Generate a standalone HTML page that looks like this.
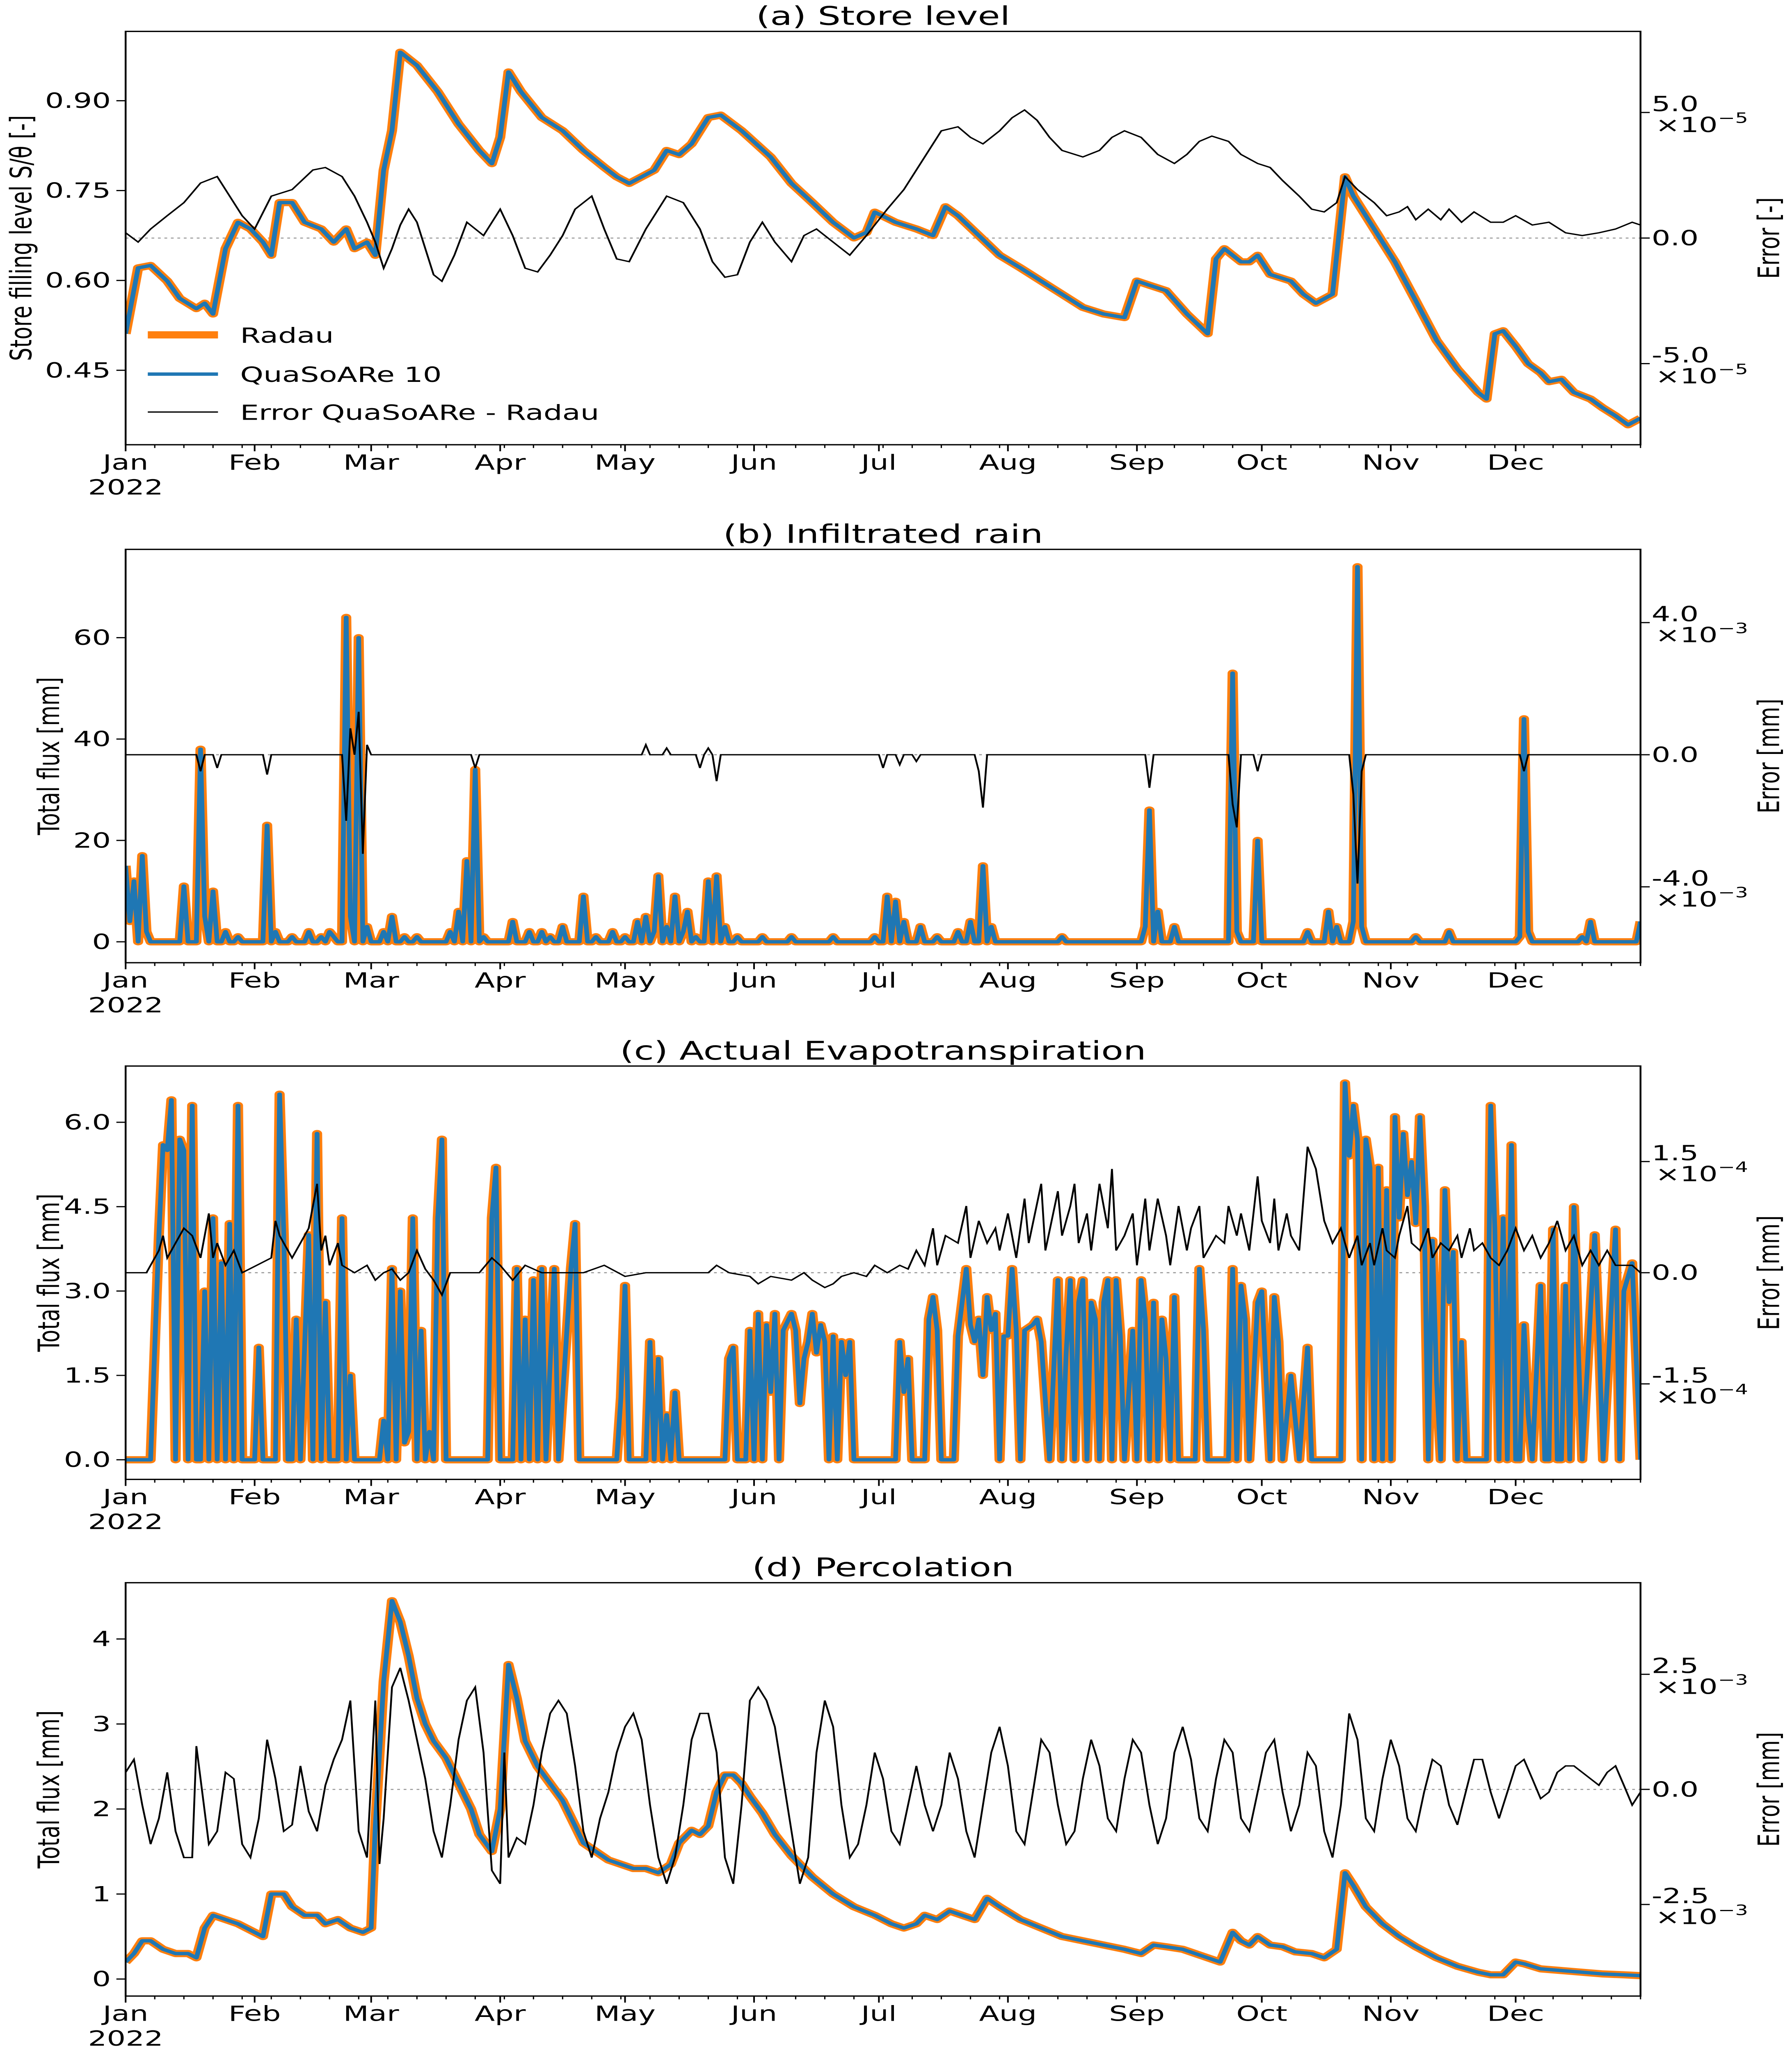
<!DOCTYPE html>
<html><head><meta charset="utf-8"><style>html,body{margin:0;padding:0;background:#fff;width:100%;height:100%;overflow:hidden}svg{display:block;width:100vw;height:100vh}text{font-family:"DejaVu Sans","Liberation Sans",sans-serif;fill:#000}</style></head>
<body>
<svg id="fig" xmlns="http://www.w3.org/2000/svg" viewBox="0 0 970 1568" preserveAspectRatio="none"></svg>
<script>
// ---- shared axis data
const monthLabels=["Jan","Feb","Mar","Apr","May","Jun","Jul","Aug","Sep","Oct","Nov","Dec"];
const monthStarts=[0,31,59,90,120,151,181,212,243,273,304,334];

// ---- (a) Store level
const storeDays=[0,3,6,10,13,17,19,21,24,27,30,33,35,37,40,43,47,50,53,55,58,60,62,64,66,70,75,80,85,88,90,92,95,100,105,110,115,118,121,124,127,130,133,136,140,143,148,155,160,165,170,175,178,180,185,190,194,197,200,205,210,215,220,225,230,235,240,243,246,250,255,260,262,264,268,270,272,275,280,283,286,290,293,295,298,300,305,310,315,320,325,327,329,331,334,337,340,342,345,348,352,355,358,361,364];
const storeVals=[0.511,0.621,0.625,0.599,0.570,0.553,0.562,0.544,0.653,0.697,0.686,0.664,0.642,0.730,0.730,0.697,0.686,0.664,0.686,0.653,0.664,0.642,0.784,0.850,0.981,0.959,0.915,0.861,0.817,0.795,0.839,0.948,0.915,0.872,0.850,0.817,0.789,0.773,0.762,0.773,0.784,0.817,0.810,0.828,0.872,0.876,0.850,0.806,0.762,0.730,0.697,0.671,0.680,0.714,0.697,0.686,0.675,0.723,0.708,0.675,0.642,0.621,0.599,0.577,0.555,0.544,0.538,0.599,0.592,0.583,0.544,0.511,0.636,0.653,0.631,0.631,0.642,0.610,0.599,0.577,0.562,0.577,0.773,0.741,0.708,0.686,0.631,0.566,0.500,0.452,0.413,0.402,0.511,0.516,0.490,0.461,0.446,0.431,0.435,0.413,0.402,0.387,0.374,0.359,0.370];
const storeErrDays=[0,3,6,10,14,18,22,25,28,31,35,40,45,48,52,55,58,60,62,64,66,68,70,74,76,79,82,86,90,93,96,99,102,105,108,112,115,118,121,125,130,134,138,141,144,147,150,153,156,160,163,166,170,174,178,183,187,190,193,196,200,203,206,210,213,216,219,222,225,230,234,237,240,244,248,252,255,258,261,265,268,272,275,278,282,285,288,291,293,296,300,303,306,308,310,313,316,318,321,324,328,331,334,338,342,346,350,354,358,362,364];
const storeErr=[0.21,-0.16,0.36,0.89,1.41,2.19,2.45,1.67,0.89,0.36,1.67,1.93,2.71,2.81,2.45,1.67,0.63,-0.16,-1.2,-0.42,0.52,1.15,0.63,-1.46,-1.72,-0.68,0.63,0.1,1.15,0.1,-1.2,-1.35,-0.68,0.1,1.15,1.67,0.36,-0.83,-0.94,0.36,1.67,1.41,0.36,-0.94,-1.56,-1.46,-0.16,0.63,-0.16,-0.94,0.1,0.36,-0.16,-0.68,0.1,1.15,1.93,2.71,3.49,4.27,4.43,4.01,3.75,4.27,4.79,5.1,4.69,4.01,3.49,3.23,3.49,4.01,4.27,4.01,3.33,2.97,3.33,3.85,4.06,3.85,3.33,2.97,2.81,2.29,1.67,1.15,1.04,1.41,2.45,1.93,1.41,0.89,1.04,1.25,0.73,1.15,0.73,1.15,0.63,1.04,0.63,0.63,0.89,0.52,0.63,0.21,0.1,0.21,0.36,0.63,0.52];

// ---- (b) Infiltrated rain (sparse days, zero elsewhere)
const rainDays=[0,1,2,4,5,14,18,19,21,24,27,34,36,40,44,47,49,50,53,54,56,58,62,64,67,70,78,80,82,84,86,93,97,100,102,105,110,113,117,120,123,125,127,128,130,132,134,135,137,140,142,144,147,153,160,170,180,183,185,187,191,195,200,203,206,208,225,245,246,248,252,266,267,272,284,289,291,295,296,297,310,318,335,336,337,350,352,364];
const rainVals=[15,4,12,17,2,11,38,5,10,2,1,23,2,1,2,1,2,1,64,5,60,3,2,5,1,1,2,6,16,34,1,4,2,2,1,3,9,1,2,1,4,5,2,13,3,9,2,6,1,12,13,3,1,1,1,1,1,9,8,4,3,1,2,4,15,3,1,3,26,6,3,53,2,20,2,6,3,4,74,3,1,2,1,44,2,1,4,4];
const rainErrDays=[18,22,34,53,54,56,57,58,84,125,130,138,140,142,182,186,190,205,206,246,266,267,272,295,296,297,336];
const rainErr=[-0.5,-0.4,-0.6,-2.0,0.8,1.3,-3.0,0.3,-0.4,0.3,0.2,-0.4,0.2,-0.8,-0.4,-0.3,-0.2,-0.5,-1.6,-1.0,-1.5,-2.2,-0.5,-1.2,-3.9,-0.5,-0.5];

// ---- (c) Actual evapotranspiration
const etDays=[0,6,8,9,10,11,12,13,14,15,16,17,18,19,20,21,22,23,24,25,26,27,28,31,32,33,36,37,38,39,40,41,42,44,45,46,47,48,49,51,52,53,54,55,61,62,63,64,65,66,67,68,69,70,71,72,73,74,75,76,77,87,88,89,90,93,94,95,96,97,98,99,100,101,103,104,107,108,109,118,119,120,121,125,126,127,128,129,130,131,132,133,144,145,146,147,149,150,151,152,153,154,155,156,157,158,160,161,162,163,164,165,166,167,168,169,170,171,172,173,174,175,185,186,187,188,189,192,193,194,195,196,199,200,202,203,204,205,206,207,208,209,210,211,212,213,214,215,216,218,219,220,222,224,225,226,227,228,229,230,231,232,233,234,235,236,237,238,239,240,242,243,244,245,246,247,248,249,250,251,252,253,257,258,259,260,265,266,267,268,269,270,272,273,275,276,277,278,280,282,284,285,292,293,294,295,296,297,298,299,300,301,302,303,304,305,306,307,308,309,310,311,312,313,314,315,316,317,318,319,320,321,322,327,328,329,330,331,332,333,334,335,336,337,338,340,341,342,343,344,345,346,347,348,349,350,353,354,355,358,359,360,362,364];
const etVals=[0,0,4,5.6,5.5,6.4,0,5.7,5.5,0,6.3,0,0,3,0,4.3,0,3.5,0,4.2,0,6.3,0,0,2,0,0,6.5,4,0,0,2.5,0,4,0,5.8,0,2.8,0,0,4.3,0,1.5,0,0,0.7,0,3.4,0,3,0.3,0.5,4.3,0,2.3,0,0.5,0,4.3,5.7,0,0,4.3,5.2,0,0,3.4,0,2.5,0,3.2,0,3.4,0,3.4,0,3.4,4.2,0,0,1.1,3.1,0,0,2.1,0,1.8,0,0.8,0,1.2,0,0,1.8,2,0,0,2.3,0,2.6,0,2.4,1.2,2.6,0,2.3,2.6,2.3,1,1.8,2.1,2.6,1.9,2.4,2.1,0,2.2,0,2.1,1.5,2.1,0,0,2.1,1.2,1.8,0,0,2.5,2.9,2.3,0,0,2.2,3.4,2.4,2.1,2.5,1.5,2.9,2.3,2.6,0,2.2,2.2,3.4,2.3,0,2.3,2.4,2.5,2.1,0,3.2,0,1.9,3.2,0,2.8,3.2,0,2.8,2.5,0,2.8,3.2,0,3.2,2.2,0,2.3,0,3.2,2.5,0,2.8,0,2.5,1.8,0,2.9,0,0,3.4,2.3,0,0,3.4,0,3.1,2.5,0,2.8,3.0,0,2.9,2.1,0,1.5,0,2,0,0,6.7,5.4,6.3,5.7,0,5.7,5.2,0,5.2,0,4.8,0,6.1,4.3,5.8,4.7,5.3,4.2,6.1,4.5,0,3.9,1.4,0,4.8,2.8,3.7,0,2.1,0,0,6.3,4.1,0,4.3,0,5.6,0,0,2.4,0.8,0,3.1,0,0,4.1,0,0,3.1,0,4.5,2.1,0,4,2.2,0,4.1,0,3,3.5,0];
const etErrDays=[0,5,8,9,10,12,14,16,18,20,21,22,24,26,28,35,36,37,40,44,46,47,48,49,51,52,55,58,60,62,64,66,68,70,72,74,76,78,85,88,90,93,96,100,110,115,120,125,140,142,145,150,152,155,160,163,165,168,170,172,175,178,180,183,186,188,190,192,194,195,197,200,202,203,205,207,209,210,212,214,216,217,220,221,224,225,227,228,229,231,232,234,236,237,238,240,242,243,245,246,248,250,251,253,255,256,258,259,262,264,265,267,268,270,272,273,275,276,277,279,280,282,284,286,288,290,292,294,296,297,299,300,302,303,305,306,308,309,311,313,314,316,318,320,321,323,324,326,328,330,332,334,336,338,340,342,344,346,348,350,352,354,356,358,362,364];
const etErr=[0,0,0.3,0.5,0.2,0.4,0.6,0.5,0.2,0.8,0.2,0.4,0.1,0.3,0,0.2,0.7,0.5,0.2,0.6,1.2,0.3,0.5,0.1,0.4,0.1,0,0.1,-0.1,0,0.05,-0.1,0,0.3,0.05,-0.1,-0.3,0,0,0.2,0.1,-0.1,0.1,0,0,0.1,-0.05,0,0,0.1,0,-0.05,-0.15,-0.05,-0.1,0,-0.1,-0.2,-0.15,-0.05,0,-0.05,0.1,0,0.1,0.05,0.3,0.1,0.6,0.1,0.5,0.4,0.9,0.2,0.7,0.4,0.6,0.3,0.8,0.2,1.0,0.4,1.2,0.3,1.1,0.5,0.9,1.2,0.4,0.8,0.3,1.2,0.6,1.4,0.3,0.5,0.8,0.1,1.0,0.3,1.0,0.5,0.1,0.9,0.3,0.6,0.9,0.2,0.5,0.4,0.9,0.5,0.8,0.3,1.3,0.7,0.4,1.0,0.3,0.8,0.5,0.3,1.7,1.4,0.7,0.4,0.6,0.2,0.5,0.1,0.4,0.1,0.6,0.3,0.2,0.5,0.9,0.4,0.3,0.6,0.2,0.4,0.3,0.5,0.2,0.6,0.3,0.4,0.2,0.1,0.3,0.6,0.3,0.5,0.2,0.4,0.7,0.3,0.5,0.1,0.3,0.1,0.3,0.1,0.1,0];

// ---- (d) Percolation
const percDays=[0,2,4,6,9,12,15,17,19,21,24,27,29,31,33,35,38,40,43,46,48,51,54,57,59,60,62,64,66,68,70,72,74,77,80,83,85,88,90,92,94,96,99,102,105,108,110,113,116,119,122,125,128,131,133,136,138,140,142,144,146,148,150,153,156,160,165,170,175,180,184,187,190,192,195,198,201,204,207,210,215,220,225,230,235,240,244,247,250,254,257,260,263,266,268,270,272,275,278,281,285,288,291,293,295,298,302,306,310,315,320,325,328,331,334,336,340,345,350,355,360,364];
const percVals=[0.2,0.3,0.45,0.45,0.35,0.3,0.3,0.25,0.6,0.75,0.7,0.65,0.6,0.55,0.5,1.0,1.0,0.85,0.75,0.75,0.65,0.7,0.6,0.55,0.6,1.8,3.5,4.45,4.2,3.8,3.3,3.0,2.8,2.6,2.3,2.0,1.7,1.5,2.0,3.7,3.3,2.8,2.5,2.3,2.1,1.8,1.6,1.5,1.4,1.35,1.3,1.3,1.25,1.35,1.6,1.75,1.7,1.8,2.2,2.4,2.4,2.3,2.15,1.95,1.7,1.45,1.2,1.0,0.85,0.75,0.65,0.6,0.65,0.75,0.7,0.8,0.75,0.7,0.95,0.85,0.7,0.6,0.5,0.45,0.4,0.35,0.3,0.4,0.38,0.35,0.3,0.25,0.2,0.55,0.45,0.4,0.5,0.4,0.38,0.32,0.3,0.25,0.35,1.25,1.1,0.85,0.65,0.5,0.38,0.25,0.15,0.08,0.05,0.05,0.2,0.18,0.12,0.1,0.08,0.06,0.05,0.04];
const percErrDays=[0,2,4,6,8,10,12,14,16,17,18,20,22,24,26,28,30,32,34,36,38,40,42,44,46,48,50,52,54,56,58,60,61,62,64,66,68,70,72,74,76,78,80,82,84,86,88,90,91,92,94,96,98,100,102,104,106,108,110,112,114,116,118,120,122,124,126,128,130,132,134,136,138,140,142,144,146,148,150,152,154,156,158,160,162,164,166,168,170,172,174,176,178,180,182,184,186,188,190,192,194,196,198,200,202,204,206,208,210,212,214,216,218,220,222,224,226,228,230,232,234,236,238,240,242,244,246,248,250,252,254,256,258,260,262,264,266,268,270,272,274,276,278,280,282,284,286,288,290,292,294,296,298,300,302,304,306,308,310,312,314,316,318,320,322,324,326,328,330,332,334,336,338,340,342,344,346,348,350,352,354,356,358,360,362,364];
const percErr=[0.37,0.65,-0.34,-1.19,-0.63,0.37,-0.91,-1.48,-1.48,0.94,0.23,-1.19,-0.91,0.37,0.23,-1.19,-1.48,-0.63,1.08,0.23,-0.91,-0.77,0.51,-0.48,-0.91,0.09,0.65,1.08,1.93,-0.91,-1.48,1.93,-1.62,-0.63,2.22,2.64,1.93,1.08,0.23,-0.91,-1.48,-0.34,1.08,1.93,2.22,0.8,-1.76,-2.05,0.8,-1.48,-1.05,-1.19,-0.34,0.8,1.65,1.93,1.65,0.51,-0.91,-1.48,-0.63,-0.06,0.8,1.36,1.65,1.08,-0.34,-1.48,-2.05,-1.48,-0.34,1.08,1.65,1.65,0.8,-1.48,-2.05,-0.34,1.93,2.22,1.93,1.36,0.23,-0.91,-2.05,-1.48,0.8,1.93,1.36,-0.34,-1.48,-1.19,-0.34,0.8,0.23,-0.91,-1.19,-0.34,0.51,-0.34,-0.91,-0.34,0.8,0.23,-0.91,-1.48,-0.34,0.8,1.36,0.51,-0.91,-1.19,-0.06,1.08,0.8,-0.34,-1.19,-0.91,0.23,1.08,0.51,-0.63,-0.91,0.23,1.08,0.8,-0.34,-1.19,-0.63,0.8,1.36,0.65,-0.63,-0.91,0.23,1.08,0.8,-0.63,-0.91,-0.06,0.8,1.08,-0.06,-0.91,-0.34,0.8,0.51,-0.91,-1.48,-0.34,1.65,1.08,-0.63,-0.91,0.23,1.08,0.51,-0.63,-0.91,-0.06,0.65,0.51,-0.34,-0.77,-0.06,0.65,0.65,-0.06,-0.63,-0.06,0.51,0.65,0.23,-0.2,-0.06,0.37,0.51,0.51,0.37,0.23,0.09,0.37,0.51,0.09,-0.34,-0.06];

const NS="http://www.w3.org/2000/svg";
const svg=document.getElementById('fig');
const X0=68,X1=888;
const xs=d=>X0+d/364*(X1-X0);
function el(tag,attrs,parent){const e=document.createElementNS(NS,tag);for(const k in attrs)e.setAttribute(k,attrs[k]);(parent||svg).appendChild(e);return e;}
function txt(s,attrs,parent){const e=el('text',attrs,parent);e.textContent=s;return e;}
function sparse(days,vals){const out=[];for(let d=0;d<=364;d++)out.push(0);days.forEach((d,i)=>out[d]=vals[i]);return out;}
function pts(days,vals,ys){return days.map((d,i)=>xs(d).toFixed(2)+','+ys(vals[i]).toFixed(2)).join(' ');}

const panels=[
 {id:'a',title:'(a) Store level',top:24,bot:340,ly:v=>77+(0.90-v)/0.15*68.7,ry:e=>182-e/5*96,
  lt:[0.45,0.60,0.75,0.90],lf:v=>v.toFixed(2),rt:[-5,0,5],rexp:'−5',lab:'Store filling level S/θ [-]',rlab:'Error [-]',
  main:[storeDays,storeVals],err:[storeErrDays,storeErr]},
 {id:'b',title:'(b) Infiltrated rain',top:420,bot:736,ly:v=>720-v/20*77.5,ry:e=>577-e/4*101,
  lt:[0,20,40,60],lf:v=>String(v),rt:[-4,0,4],rexp:'−3',lab:'Total flux [mm]',rlab:'Error [mm]',
  main:[null,sparse(rainDays,rainVals)],err:[null,sparse(rainErrDays,rainErr)]},
 {id:'c',title:'(c) Actual Evapotranspiration',top:815,bot:1131,ly:v=>1116-v/1.5*64.5,ry:e=>973-e/1.5*85,
  lt:[0,1.5,3,4.5,6],lf:v=>v.toFixed(1),rt:[-1.5,0,1.5],rexp:'−4',lab:'Total flux [mm]',rlab:'Error [mm]',
  main:[etDays,etVals],err:[etErrDays,etErr]},
 {id:'d',title:'(d) Percolation',top:1210,bot:1526,ly:v=>1513-v*65,ry:e=>1368-e/2.5*88,
  lt:[0,1,2,3,4],lf:v=>String(v),rt:[-2.5,0,2.5],rexp:'−3',lab:'Total flux [mm]',rlab:'Error [mm]',
  main:[percDays,percVals],err:[percErrDays,percErr]}
];
const days365=[];for(let d=0;d<=364;d++)days365.push(d);

panels.forEach(p=>{
 const g=el('g',{});
 
 
 const cp=el('clipPath',{id:'clip'+p.id},g);
 el('rect',{x:X0,y:p.top,width:X1-X0,height:p.bot-p.top},cp);
 const t=txt(p.title,{x:(X0+X1)/2,y:p.top-5,'text-anchor':'middle','font-size':19.5},g);
 
 
 const plot=el('g',{'clip-path':'url(#clip'+p.id+')'},g);
 const z=el('line',{x1:X0,x2:X1,y1:p.ry(0),y2:p.ry(0),stroke:'#999','stroke-width':0.8,'stroke-dasharray':'1.5,2'},plot);
 
 
 const md=p.main[0]||days365, ed=p.err[0]||days365;
 const r=el('polyline',{points:pts(md,p.main[1],p.ly),fill:'none',stroke:'#ff7f0e','stroke-width':5.5,'stroke-linejoin':'round'},plot);
 
 
 const q=el('polyline',{points:pts(md,p.main[1],p.ly),fill:'none',stroke:'#1f77b4','stroke-width':2.6,'stroke-linejoin':'round'},plot);
 
 
 const e=el('polyline',{points:pts(ed,p.err[1],p.ry),fill:'none',stroke:'#000','stroke-width':1},plot);
 
 
 const fr=el('rect',{x:X0,y:p.top,width:X1-X0,height:p.bot-p.top,fill:'none',stroke:'#000','stroke-width':1},g);
 
 
 for(let d=0;d<=364;d+=7){el('line',{x1:xs(d),x2:xs(d),y1:p.bot,y2:p.bot+2.5,stroke:'#000','stroke-width':0.7},g);}
 monthStarts.forEach((d,i)=>{
  el('line',{x1:xs(d),x2:xs(d),y1:p.bot,y2:p.bot+5,stroke:'#000','stroke-width':0.9},g);
  const ml=txt(monthLabels[i],{x:xs(d),y:p.bot+19,'text-anchor':'middle','font-size':16},g);
  
  
 });
 txt('2022',{x:xs(0),y:p.bot+38,'text-anchor':'middle','font-size':16},g);
 p.lt.forEach(v=>{
  el('line',{x1:X0-5,x2:X0,y1:p.ly(v),y2:p.ly(v),stroke:'#000','stroke-width':0.9},g);
  const l=txt(p.lf(v),{x:X0-8,y:p.ly(v)+5.5,'text-anchor':'end','font-size':16},g);
  
  
 });
 p.rt.forEach(v=>{
  const y=p.ry(v);
  el('line',{x1:X1,x2:X1+5,y1:y,y2:y,stroke:'#000','stroke-width':0.9},g);
  const s=(v===0?'0.0':(v<0?'-':'')+Math.abs(v).toFixed(1));
  if(v===0){txt(s,{x:894,y:y+5.5,'font-size':16},g);}
  else{
   const l=txt(s,{x:894,y:y-1,'font-size':16},g);
   
   
   txt('×10',{x:896,y:y+15,'font-size':16},g);
   txt(p.rexp,{x:930,y:y+8,'font-size':11},g);
  }
 });
 const yl=txt(p.lab,{x:0,y:0,'text-anchor':'middle','font-size':16,transform:`translate(${p.id==='a'?17:32},${(p.top+p.bot)/2}) rotate(-90)`},g);
 
 
 const yr=txt(p.rlab,{x:0,y:0,'text-anchor':'middle','font-size':16,transform:`translate(963,${(p.top+p.bot)/2}) rotate(-90)`},g);
 
 
});

const lg=el('g',{});


el('line',{x1:80,x2:118,y1:256,y2:256,stroke:'#ff7f0e','stroke-width':5.5},lg);
txt('Radau',{x:130,y:262,'font-size':16},lg);
el('line',{x1:80,x2:118,y1:286,y2:286,stroke:'#1f77b4','stroke-width':2.6},lg);
txt('QuaSoARe 10',{x:130,y:292,'font-size':16},lg);
el('line',{x1:80,x2:118,y1:315,y2:315,stroke:'#000','stroke-width':1},lg);
txt('Error QuaSoARe - Radau',{x:130,y:321,'font-size':16},lg);
</script>
</body></html>
